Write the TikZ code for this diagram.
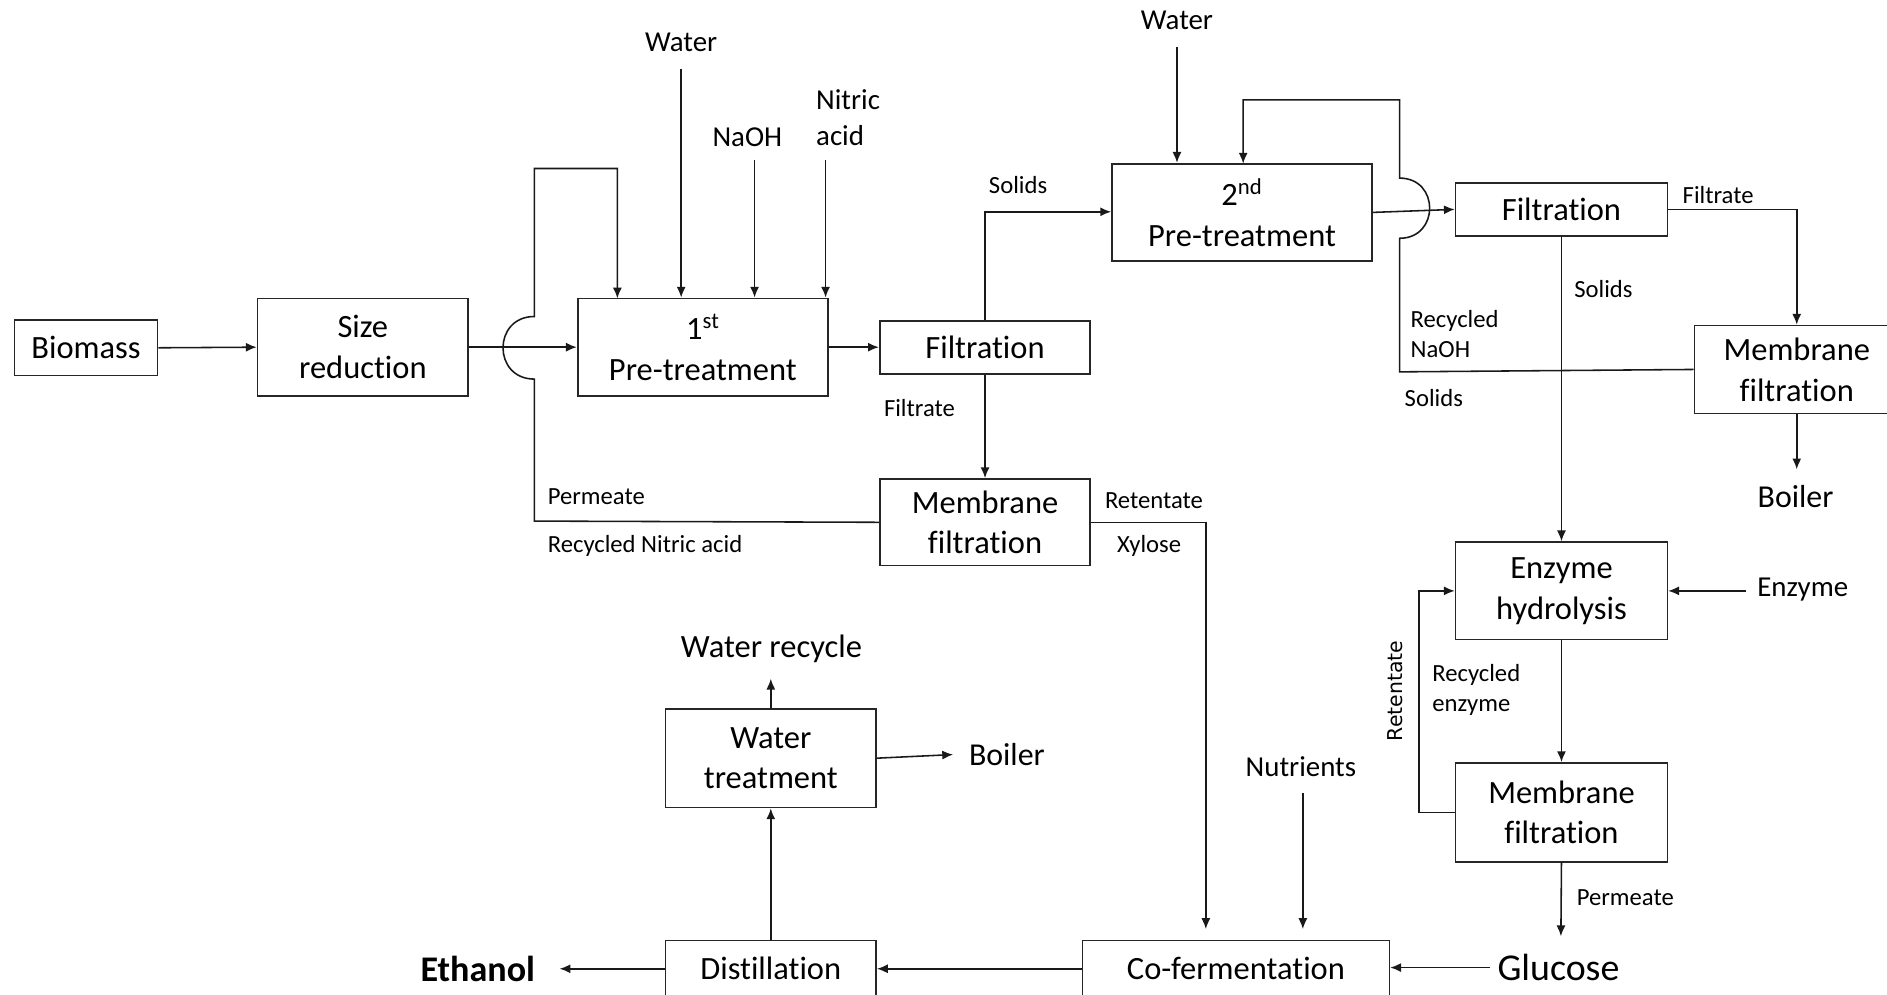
\documentclass[tikz,border=0pt]{standalone}
\usepackage{fontspec}
\setmainfont[Ligatures=NoCommon]{Carlito}
\newfontfamily\retfont{DejaVu Sans}
\usetikzlibrary{arrows.meta}
\begin{document}
\begin{tikzpicture}[x=1pt,y=-1pt,
  box/.style={draw=black!85, line width=1.4pt, inner sep=0pt, align=center, font=\fontsize{27}{34}\selectfont},
  ft/.style={inner sep=0pt, font=\fontsize{24}{30}\selectfont},
  lt/.style={inner sep=0pt, align=left, font=\fontsize{20.5}{25}\selectfont},
  bigt/.style={inner sep=0pt, font=\fontsize{26.5}{32}\selectfont},
  con/.style={line width=1.3pt, draw=black!90},
  arr/.style={con, -{Latex[length=9pt,width=7.5pt]}}]
\useasboundingbox (0,0) rectangle (1568,826);
\fill[white] (0,0) rectangle (1568,826);
% boxes
\node[box, minimum width=119pt, minimum height=46pt] (bio) at (71.5,289) {Biomass};
\node[box, minimum width=175pt, minimum height=81pt] (size) at (301.5,288.5) {Size\\reduction};
\node[box, minimum width=208pt, minimum height=81pt] (pt1) at (584,288.5) {1\textsuperscript{st}\\Pre-treatment};
\node[box, minimum width=175pt, minimum height=44pt] (filt1) at (818.5,288.5) {Filtration};
\node[box, minimum width=175pt, minimum height=72pt] (mem1) at (818.5,434) {Membrane\\filtration};
\node[box, minimum width=216pt, minimum height=81pt] (pt2) at (1032,176.5) {2\textsuperscript{nd}\\Pre-treatment};
\node[box, minimum width=176pt, minimum height=44pt] (filt2) at (1297.5,174) {Filtration};
\node[box, minimum width=170pt, minimum height=73pt] (mem2) at (1493,307) {Membrane\\filtration};
\node[box, minimum width=176pt, minimum height=81pt] (enz) at (1297.5,491) {Enzyme\\hydrolysis};
\node[box, minimum width=176pt, minimum height=82pt] (mem3) at (1297.5,675) {Membrane\\filtration};
\node[box, minimum width=255pt, minimum height=47pt] (cofer) at (1027,805) {Co-fermentation};
\node[box, minimum width=175pt, minimum height=47pt] (dist) at (640.5,805) {Distillation};
\node[box, minimum width=175pt, minimum height=82pt] (wt) at (640.5,630) {Water\\treatment};
% text labels
\node[ft] (water1) at (566,35) {Water};
\node[ft] (naoh) at (621,114) {NaOH};
\node[ft, align=left, anchor=west] (nitric) at (678,98) {Nitric\\acid};
\node[ft] (water2) at (978,17) {Water};
\node[lt] (sol1) at (846,154) {Solids};
\node[lt] (fil1) at (764,339) {Filtrate};
\node[lt, anchor=west] (perm1) at (455,413) {Permeate};
\node[lt, anchor=west] (rna) at (455,454) {Recycled Nitric acid};
\node[lt, anchor=west] (ret1) at (918,416) {Retentate};
\node[lt, anchor=west] (xyl) at (928,454) {Xylose};
\node[lt, anchor=west] (fil2) at (1398,162) {Filtrate};
\node[lt, anchor=west] (sol2) at (1308,240) {Solids};
\node[lt, anchor=west] (rnaoh) at (1172,277.5) {Recycled\\NaOH};
\node[lt, anchor=west] (sol3) at (1167,331) {Solids};
\node[bigt] (boil1) at (1492,413) {Boiler};
\node[ft, anchor=west] (enzin) at (1460,490) {Enzyme};
\node[inner sep=0pt, rotate=90, font=\retfont\fontsize{17}{20}\selectfont] (ret2) at (1159,574) {Retentate};
\node[lt, anchor=west] (renz) at (1190,573.5) {Recycled\\enzyme};
\node[lt, anchor=west] (perm2) at (1310,746) {Permeate};
\node[inner sep=0pt, font=\fontsize{31.5}{36}\selectfont] (glu) at (1295,804) {Glucose};
\node[ft] (nut) at (1081,637) {Nutrients};
\node[bigt, font=\fontsize{27}{32}\selectfont] (wrec) at (641,539) {Water recycle};
\node[bigt, anchor=west] (boil2) at (805,627) {Boiler};
\node[inner sep=0pt, font=\bfseries\fontsize{30}{36}\selectfont] (eth) at (397,805) {Ethanol};
% coordinates
\coordinate (w1) at (566,57);
\coordinate (n1) at (627,133);
\coordinate (a1) at (686,133);
\coordinate (w2) at (978,39);
\coordinate (enzsrc) at (1451,491);
\coordinate (nutsrc) at (1082.6,659);
\coordinate (nutend) at (1082.6,772);
\coordinate (xylend) at (1002,772);
\coordinate (gluend) at (1297,778);
\coordinate (glusrc) at (1238,804);
\coordinate (ethend) at (465,805);
\coordinate (wrecend) at (640.5,564);
\coordinate (boil2end) at (792,627);
\coordinate (boil1end) at (1493,390);
% connectors
\draw[arr] (bio.east) -- (size.west);
\draw[arr] (size.east) -- (pt1.west);
\draw[arr] (mem1.west) -- (444,433) -- (444,315) .. controls (409.3,315) and (409.3,263) .. (444,263) -- (444,140) -- (513,140) -- (513,248);
\draw[arr] (w1) -- (w1 |- pt1.north);
\draw[arr] (n1) -- (n1 |- pt1.north);
\draw[arr] (a1) -- (a1 |- pt1.north);
\draw[arr] (pt1.east) -- (filt1.west);
\draw[arr] (filt1.north) -- (818.5,176) -- (pt2.west |- 0,176);
\draw[arr] (filt1.south) -- (mem1.north);
\draw[arr] (mem1.east) -- (1002,434) -- (xylend);
\draw[arr] (w2) -- (w2 |- pt2.north);
\draw[arr] (pt2.east) -- (filt2.west);
\draw[arr] (mem2.west) -- (1163,309) -- (1163,198) .. controls (1196.3,198) and (1196.3,148) .. (1163,148) -- (1163,83) -- (1033,83) -- (1033,136);
\draw[arr] (filt2.east) -- (1493,174) -- (mem2.north);
\draw[arr] (mem2.south) -- (boil1end);
\draw[arr] (filt2.south) -- (enz.north);
\draw[arr] (enzsrc) -- (enz.east);
\draw[arr] (enz.south) -- (mem3.north);
\draw[arr] (mem3.west) -- (1179,675) -- (1179,491) -- (enz.west);
\draw[arr] (mem3.south) -- (gluend);
\draw[arr] (glusrc) -- (cofer.east |- glusrc);
\draw[arr] (nutsrc) -- (nutend);
\draw[arr] (cofer.west) -- (dist.east);
\draw[arr] (dist.west) -- (ethend);
\draw[arr] (dist.north) -- (wt.south);
\draw[arr] (wt.north) -- (wrecend);
\draw[arr] (wt.east) -- (boil2end);
\end{tikzpicture}
\end{document}
